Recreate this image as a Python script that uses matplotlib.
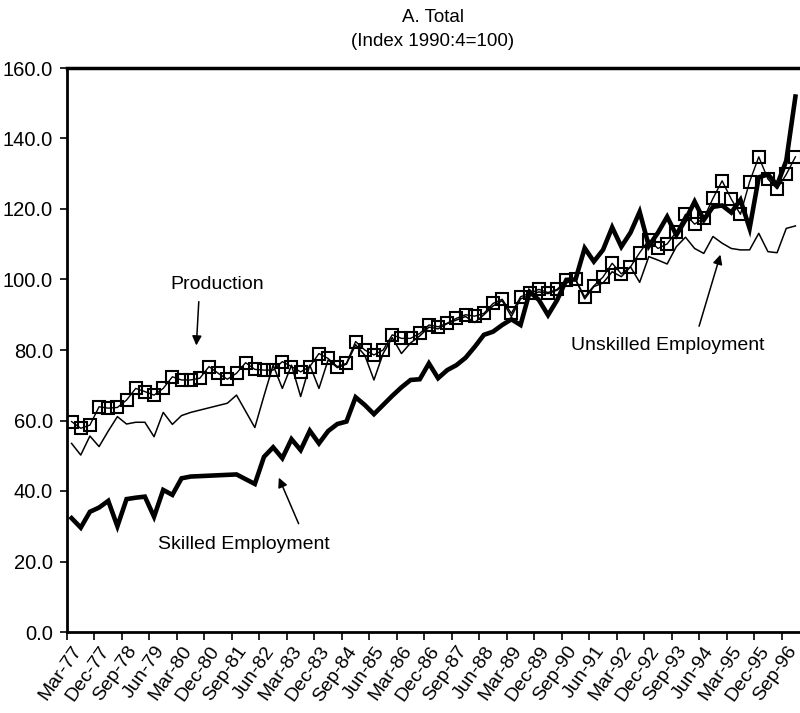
import numpy as np
import matplotlib
matplotlib.use("Agg")
import matplotlib.pyplot as plt

# quarterly index values, Mar-77 .. Dec-96 (None = no observation, line is joined)
production = [59.7, 57.8, 58.7, 63.9, 63.5, 63.7, 65.8, 69.1, 68.2, 67.2,
              69.1, 72.4, 71.5, 71.5, 72.0, 75.3, 73.4, 71.7, 73.4, 76.4,
              74.5, 74.3, 74.3, 76.7, 75.3, 73.8, 75.3, 79.0, 77.6, 75.3,
              76.2, 82.4, 80.0, 78.6, 80.0, 84.3, 83.3, 83.3, 84.7, 87.1,
              86.6, 87.6, 89.0, 90.0, 89.6, 90.4, 93.2, 94.4, 90.4, 95.1,
              96.1, 97.2, 96.3, 97.2, 99.9, 100.0, 95.1, 98.2, 100.7, 104.6,
              101.6, 103.6, 107.6, 111.2, 108.8, 110.1, 113.5, 118.5, 115.7, 117.4,
              123.0, 128.0, 122.8, 118.5, 127.7, 134.8, 128.5, 125.7, 129.8, 134.8]

skilled = [32.3, 29.6, 34.1, 35.3, 37.2, 30.0, 37.7, 38.1, 38.4, 32.7,
           40.3, 38.9, 43.6, 44.1, None, None, None, None, 44.7, None,
           42.0, 49.7, 52.4, 49.3, 54.7, 51.6, 57.1, 53.5, 57.0, 59.0,
           59.7, 66.6, 64.4, 61.8, 64.4, 67.0, 69.4, 71.5, 71.7, 76.2,
           72.0, 74.3, 75.7, 77.8, 80.9, 84.3, 85.2, 87.1, 88.7, 87.1,
           96.5, 94.2, 89.9, 94.2, 99.9, 100.0, 108.9, 105.1, 108.4, 114.8,
           109.3, 113.3, 119.2, 109.5, 113.3, 117.8, 112.6, 116.9, 122.1, 116.9,
           120.6, 121.0, 119.0, 122.6, 114.5, 129.0, 129.8, 126.8, 133.7, 151.9]

unskilled = [53.5, 50.2, 55.6, 52.6, 57.0, 61.1, 59.0, 59.5, 59.5, 55.4,
             62.3, 58.9, 61.4, 62.3, None, None, None, 64.9, 67.2, None,
             58.0, 67.0, 75.7, 69.1, 75.7, 66.8, 75.7, 69.1, 77.2, 75.0,
             76.0, 81.5, 78.5, 71.5, 79.0, 83.5, 79.0, 82.0, 84.0, 86.5,
             86.0, 87.5, 88.5, 89.5, 87.8, 90.0, 92.5, 94.0, 89.5, 94.5,
             95.5, 96.5, 96.0, 97.0, 99.0, 100.0, 94.5, 98.0, 99.0, 102.2,
             100.8, 103.6, 99.2, 106.5, 105.5, 104.4, 109.3, 112.0, 108.8, 107.4,
             112.2, 110.3, 108.8, 108.4, 108.4, 113.1, 107.9, 107.6, 114.5, 115.2]

tick_labels = ["Mar-77", "Dec-77", "Sep-78", "Jun-79", "Mar-80", "Dec-80", "Sep-81",
               "Jun-82", "Mar-83", "Dec-83", "Sep-84", "Jun-85", "Mar-86", "Dec-86",
               "Sep-87", "Jun-88", "Mar-89", "Dec-89", "Sep-90", "Jun-91", "Mar-92",
               "Dec-92", "Sep-93", "Jun-94", "Mar-95", "Dec-95", "Sep-96"]

plt.rcParams['font.family'] = ['Liberation Sans', 'DejaVu Sans']


def series(values):
    # keep only the quarters that have a value, so gaps are bridged by a line
    y = np.array([np.nan if v is None else v for v in values], dtype=float)
    x = np.arange(len(y))
    ok = ~np.isnan(y)
    return x[ok], y[ok]


fig = plt.figure(figsize=(8, 7.13), dpi=100)
ax = fig.add_axes([67 / 800, 81 / 713, 733 / 800, 564 / 713])

x, y = series(unskilled)
ax.plot(x, y, color='black', lw=1.1, zorder=2)
x, y = series(skilled)
ax.plot(x, y, color='black', lw=3.3, solid_joinstyle='miter', zorder=3)
x, y = series(production)
ax.plot(x, y, color='black', lw=1.0, marker='s', markersize=8.5,
        markerfacecolor='none', markeredgewidth=1.5, zorder=4)

n = len(production)
ax.set_xlim(-0.5, n - 0.5)
ax.set_ylim(0, 160)

ax.set_yticks(np.arange(0, 161, 20))
ax.set_yticklabels(["%.1f" % v for v in np.arange(0, 161, 20)], fontsize=14.5)
ax.tick_params(axis='y', direction='out', length=5, width=1.2, pad=5)

ax.set_xticks(np.arange(0, 3 * len(tick_labels), 3))
ax.set_xticklabels(tick_labels, rotation=55, ha='right', rotation_mode='anchor', fontsize=14)
ax.tick_params(axis='x', which='major', length=0, pad=8)
ax.set_xticks(np.arange(-0.5, n, 3), minor=True)
ax.tick_params(axis='x', which='minor', direction='out', length=6, width=1.2)

for side in ['left', 'bottom']:
    ax.spines[side].set_linewidth(2)
ax.spines['top'].set_linewidth(2.5)
ax.spines['right'].set_visible(False)

arrow = dict(arrowstyle='-|>', color='black', lw=1.1, mutation_scale=14)
ax.text(15.9, 98.6, "Production", ha='center', va='center', fontsize=14)
ax.annotate("", xy=(13.6, 80.5), xytext=(13.9, 94.5), arrowprops=arrow)
ax.text(18.8, 24.7, "Skilled Employment", ha='center', va='center', fontsize=14)
ax.annotate("", xy=(22.5, 44.5), xytext=(24.9, 30.0), arrowprops=arrow)
ax.text(65.1, 81.4, "Unskilled Employment", ha='center', va='center', fontsize=14)
ax.annotate("", xy=(70.9, 107.8), xytext=(68.4, 86.0), arrowprops=arrow)

fig.text(433 / 800, 1 - 17 / 713, "A. Total", ha='center', va='center', fontsize=13.5)
fig.text(433 / 800, 1 - 42 / 713, "(Index 1990:4=100)", ha='center', va='center', fontsize=13.5)

fig.savefig("out.png", dpi=100)
